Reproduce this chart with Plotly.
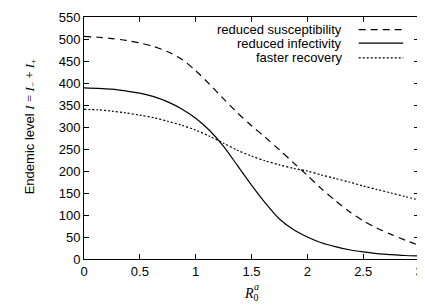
import plotly.graph_objects as go

R0a = [0, 0.125, 0.25, 0.375, 0.5, 0.625, 0.75, 0.875, 1.0, 1.125, 1.25, 1.375, 1.5,
       1.625, 1.75, 1.875, 2.0, 2.125, 2.25, 2.375, 2.5, 2.625, 2.75, 2.875, 3.0]
reduced_susceptibility = [506, 504, 501, 497, 491, 483, 471, 454, 428, 397, 364, 332, 303,
                          276, 248, 219, 190, 160, 133, 108, 87, 70, 56, 43, 31]
reduced_infectivity = [389, 388, 386, 382, 377, 369, 357, 341, 320, 292, 256, 212, 168,
                       127, 91, 67, 50, 37, 28, 21, 16, 12, 10, 8, 7]
faster_recovery = [340, 339, 336, 332, 327, 321, 313, 304, 293, 279, 263, 247, 234,
                   223, 214, 206, 200, 191, 183, 175, 166, 158, 150, 142, 134]

series_names = ["reduced susceptibility", "reduced infectivity", "faster recovery"]
series_values = [reduced_susceptibility, reduced_infectivity, faster_recovery]
dashes = ["7px,5px", "solid", "2px,2px"]

x_ticks = [0, 0.5, 1, 1.5, 2, 2.5, 3]
x_tick_labels = ["0", "0.5", "1", "1.5", "2", "2.5", "3"]
y_ticks = list(range(0, 551, 50))

FONT = "Liberation Sans, Arial, Helvetica, sans-serif"
SERIF = "Liberation Serif, Times New Roman, serif"

fig = go.Figure()
for name, vals, d in zip(series_names, series_values, dashes):
    fig.add_trace(go.Scatter(x=R0a, y=vals, mode="lines", name=name,
                             line=dict(color="black", width=1.2, dash=d, shape="spline", smoothing=0.8),
                             showlegend=False))

# custom legend (text right-aligned, sample line on the right, gnuplot-style)
leg_y = [0.948, 0.892, 0.831]
annotations = []
shapes = []
for name, d, yy in zip(series_names, dashes, leg_y):
    annotations.append(dict(x=0.776, y=yy, xref="paper", yref="paper", text=name,
                            showarrow=False, xanchor="right", yanchor="middle",
                            font=dict(family=FONT, size=13, color="black")))
    shapes.append(dict(type="line", xref="paper", yref="paper", x0=0.82, x1=0.953, y0=yy, y1=yy,
                       line=dict(color="black", width=1.2, dash=d)))

# y-axis title
annotations.append(dict(x=-0.16, y=0.55, xref="paper", yref="paper", textangle=-90,
                        text="Endemic level <span style='font-family:Liberation Serif'><i>I</i> = <i>I</i><sub>\u2212</sub> + <i>I</i><sub>+</sub></span>",
                        showarrow=False, xanchor="center", yanchor="middle",
                        font=dict(family=FONT, size=13, color="black")))
# x-axis title R_0^a
annotations.append(dict(x=0.5, y=-0.145, xref="paper", yref="paper",
                        text="<i>R</i><sub>0</sub>", showarrow=False, xanchor="center", yanchor="middle",
                        font=dict(family=SERIF, size=14, color="black")))
annotations.append(dict(x=0.515, y=-0.112, xref="paper", yref="paper",
                        text="<i>a</i>", showarrow=False, xanchor="center", yanchor="middle",
                        font=dict(family=SERIF, size=10, color="black")))

# page body has an 8px default margin: size and margins compensate for it
fig.update_layout(
    width=417, height=298,
    margin=dict(l=76, r=2, t=2, b=47),
    paper_bgcolor="white", plot_bgcolor="white",
    font=dict(family=FONT, size=13, color="black"),
    annotations=annotations, shapes=shapes,
    xaxis=dict(range=[0, 3], tickvals=x_ticks, ticktext=x_tick_labels,
               ticks="inside", ticklen=5, tickcolor="black", showline=True, linecolor="black",
               linewidth=1, mirror="ticks", showgrid=False, zeroline=False,
               ticklabeloverflow="allow"),
    yaxis=dict(range=[0, 550], tickvals=y_ticks, ticks="inside", ticklen=5, tickcolor="black",
               showline=True, linecolor="black", linewidth=1, mirror="ticks",
               showgrid=False, zeroline=False, ticklabeloverflow="allow"),
)

fig.write_html("out.html")
